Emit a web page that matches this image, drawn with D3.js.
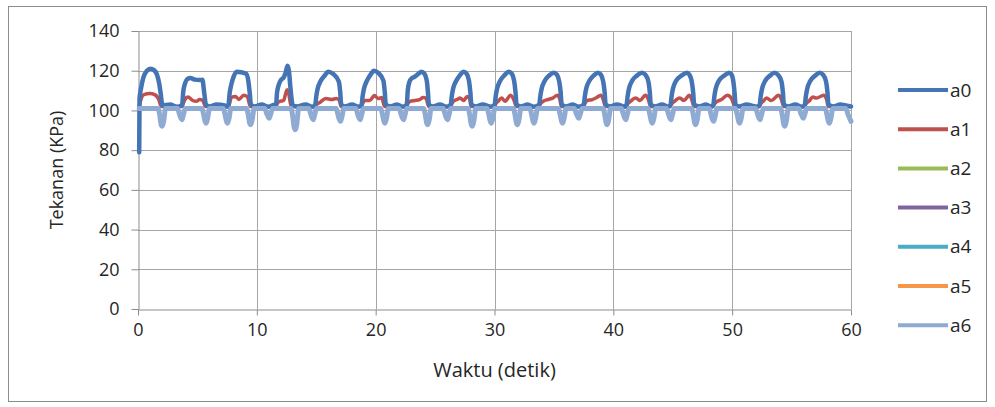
<!DOCTYPE html>
<html>
<head>
<meta charset="utf-8">
<script src="https://cdn.jsdelivr.net/npm/d3@7"></script>
<style>
  html, body { margin: 0; padding: 0; background: #fff; }
  svg { display: block; }
  text { font-family: "Open Sans", Lato, sans-serif; fill: #262626; }
</style>
</head>
<body>
<svg id="chart" width="995" height="407"></svg>
<script>
// Pressure readings (KPa) over time (s), as [time, value] pairs per sensor.
const a0 = [
  [0.1,79],[0.13,106],[0.25,111],[0.45,116.5],[0.75,120],[1.05,121],[1.35,120.3],[1.6,118],[1.8,113],[1.92,108],[2.05,102.5],[2.7,103],[3.3,101.8],[3.62,102.5],
  [3.72,103],[3.8,109],[3.95,113.5],[4.15,115.8],[4.4,116.3],[4.8,115.5],[5.2,115.3],[5.42,115.5],[5.55,110],[5.72,103],[6.0,102],[6.6,103],[7.3,102.5],[7.5,101.8],
  [7.62,103],[7.7,108],[7.85,113],[8.05,117],[8.3,119.5],[8.7,119.2],[9.1,118.5],[9.28,115],[9.4,109],[9.5,103],[9.8,102],[10.4,103],[11.0,101.8],[11.4,102.8],
  [11.62,103],[11.7,109],[11.85,113],[12.05,115.5],[12.25,116.5],[12.42,119],[12.58,122.5],[12.7,120],[12.82,112],[12.92,106],[13.02,102.5],[13.4,102],[14.1,103],[14.7,101.8],
  [14.92,103],[15.0,107],[15.12,111],[15.37,114.8],[15.72,117.6],[16.0,119.5],[16.4,118.5],[16.9,114.5],[17.02,109],[17.1,103],[17.4,102],[18.0,103],[18.6,101.8],
  [18.82,103],[18.9,107],[19.02,111],[19.27,115],[19.6,118.3],[19.85,120],[20.2,119],[20.65,115],[20.77,109],[20.85,103],[21.2,102],[21.8,103],[22.3,101.8],
  [22.62,103],[22.7,110],[22.85,114.5],[23.0,116],[23.3,117],[23.6,118.5],[23.85,119.5],[24.1,118.5],[24.3,115],[24.4,109],[24.48,103],[24.8,102],[25.4,103],[26.0,101.8],
  [26.32,103],[26.4,107],[26.52,111],[26.77,114.8],[27.1,117.8],[27.4,119.5],[27.65,118.5],[27.85,115],[27.97,109],[28.05,103],[28.4,102],[29.0,103],[29.7,101.8],
  [30.02,103],[30.1,107],[30.22,111],[30.47,114.8],[30.85,117.8],[31.2,119.5],[31.45,118.5],[31.65,115],[31.77,109],[31.85,103],[32.2,102],[32.8,103],[33.3,101.8],
  [33.77,103],[33.85,107],[33.97,111],[34.22,114.8],[34.6,117.6],[35.0,119],[35.25,118],[35.45,114.5],[35.57,109],[35.65,103],[36.0,102],[36.6,103],[37.05,101.8],
  [37.52,103],[37.6,107],[37.72,111],[37.97,114.8],[38.35,117.6],[38.7,119],[38.95,118],[39.15,114.5],[39.27,109],[39.35,103],[39.7,102],[40.3,103],[41.0,101.8],
  [41.12,103],[41.2,107],[41.32,111],[41.57,114.8],[42.0,117.6],[42.4,119],[42.7,118],[42.95,114.5],[43.07,109],[43.15,103],[43.5,102],[44.1,103],[44.65,101.8],
  [44.82,103],[44.9,107],[45.02,111],[45.27,114.8],[45.75,117.6],[46.2,119],[46.4,118],[46.6,114.5],[46.72,109],[46.8,103],[47.2,102],[47.8,103],[48.25,101.8],
  [48.42,103],[48.5,107],[48.62,111],[48.87,114.8],[49.35,117.6],[49.75,119],[49.95,118],[50.1,114.5],[50.2,109],[50.28,103],[50.6,102],[51.2,103],[52.1,101.8],
  [52.32,103],[52.4,107],[52.52,111],[52.77,114.8],[53.2,117.6],[53.55,119],[53.85,118],[54.15,114.5],[54.27,109],[54.35,103],[54.7,102],[55.3,103],[55.9,101.8],
  [56.12,103],[56.2,107],[56.32,111],[56.57,114.8],[57.0,117.6],[57.35,119],[57.65,118],[57.9,114.5],[58.02,109],[58.1,103],[58.5,102],[59.1,103],[59.6,102.5],[60,102]
];

const a1 = [
  [0.1,102],[0.3,106.5],[0.5,108],[1.0,108.5],[1.4,108],[1.75,105.5],[1.95,102],
  [3.72,102],[3.78,103],[3.95,105.5],[4.2,106.8],[4.6,105],[4.9,104.6],[5.2,105.5],[5.45,105],[5.68,102],
  [7.6,102],[7.68,103],[7.85,106.5],[8.2,107],[8.5,105.5],[8.9,107.7],[9.2,107],[9.45,102],
  [11.62,102],[11.68,103],[11.9,104.5],[12.25,105],[12.45,109],[12.55,110.4],[12.7,108],[12.85,103],[13.0,102],
  [14.92,102],[15.0,102.8],[15.3,104],[15.8,106],[16.3,105.5],[16.7,106],[16.95,105],[17.08,102],
  [18.82,102],[18.88,103],[19.1,105],[19.5,105],[19.9,107.5],[20.2,106],[20.5,106.5],[20.75,102],
  [22.62,102],[22.68,103],[22.9,104.6],[23.3,105],[23.7,105.5],[24.0,106.5],[24.25,106],[24.45,102],
  [26.32,102],[26.38,103],[26.55,104.6],[26.85,105.5],[27.1,106.2],[27.4,105],[27.7,107],[27.9,106],[28.03,102],
  [30.02,102],[30.08,103],[30.3,104.6],[30.6,106.2],[30.9,104.6],[31.35,107.7],[31.65,105],[31.83,102],
  [33.77,102],[33.83,103],[34.1,104.6],[34.5,105.5],[34.9,106.2],[35.3,107.7],[35.5,105.5],[35.63,102],
  [37.52,102],[37.58,103],[37.8,105],[38.2,105.4],[38.6,106.5],[38.95,107.7],[39.15,105.5],[39.33,102],
  [41.12,102],[41.18,103],[41.45,104.6],[41.9,106.2],[42.25,105],[42.7,107.7],[42.95,105.5],[43.13,102],
  [44.82,102],[44.88,103],[45.15,104.6],[45.6,106.2],[45.95,105],[46.4,107.7],[46.6,105.5],[46.78,102],
  [48.42,102],[48.48,103],[48.75,104.6],[49.1,105.5],[49.6,107.7],[49.95,106],[50.23,102],
  [52.32,102],[52.38,103],[52.6,104.6],[52.9,106.2],[53.3,105],[53.9,107.7],[54.15,105.5],[54.33,102],
  [56.12,102],[56.18,103],[56.45,104.6],[56.8,106.7],[57.1,106.2],[57.7,107.7],[57.95,105.5],[58.08,102],
  [60,102]
];

// Sensors a2..a5 recorded no visible trace
const a2 = [];
const a3 = [];
const a4 = [];
const a5 = [];

const a6 = [
  [0.1,101],
  [1.68,101],[1.82,98],[1.94,93],[2.04,92],[2.16,94.5],[2.32,101],
  [3.33,101],[3.47,98.5],[3.59,96.3],[3.69,95.3],[3.81,97.5],[3.97,101],
  [5.38,101],[5.52,98],[5.64,94.6],[5.74,93.6],[5.86,96],[6.02,101],
  [7.18,101],[7.32,98],[7.44,94.6],[7.54,93.6],[7.66,96],[7.82,101],
  [9.13,101],[9.27,98],[9.39,93.8],[9.49,92.8],[9.61,95.3],[9.77,101],
  [10.68,101],[10.82,98.5],[10.94,97],[11.04,96],[11.16,98],[11.32,101],
  [12.88,101],[13.02,97],[13.14,91.5],[13.24,90.3],[13.36,93],[13.52,101],
  [14.38,101],[14.52,98.5],[14.64,96.3],[14.74,95.3],[14.86,97.5],[15.02,101],
  [16.68,101],[16.82,98],[16.94,95.5],[17.04,94.5],[17.16,96.8],[17.32,101],
  [18.33,101],[18.47,98.5],[18.59,96.3],[18.69,95.3],[18.81,97.5],[18.97,101],
  [20.43,101],[20.57,98],[20.69,94.6],[20.79,93.6],[20.91,96],[21.07,101],
  [21.98,101],[22.12,98.5],[22.24,96.3],[22.34,95.3],[22.46,97.5],[22.62,101],
  [24.03,101],[24.17,98],[24.29,93.8],[24.39,92.8],[24.51,95.3],[24.67,101],
  [25.68,101],[25.82,98.5],[25.94,96.3],[26.04,95.3],[26.16,97.5],[26.32,101],
  [27.78,101],[27.92,97.5],[28.04,93],[28.14,92],[28.26,94.5],[28.42,101],
  [29.38,101],[29.52,98],[29.64,94.6],[29.74,93.6],[29.86,96],[30.02,101],
  [31.58,101],[31.72,98],[31.84,93.8],[31.94,92.8],[32.06,95.3],[32.22,101],
  [32.98,101],[33.12,98],[33.24,94.6],[33.34,93.6],[33.46,96],[33.62,101],
  [35.38,101],[35.52,98],[35.64,94.6],[35.74,93.6],[35.86,96],[36.02,101],
  [36.73,101],[36.87,98.5],[36.99,97],[37.09,96],[37.21,98],[37.37,101],
  [39.13,101],[39.27,98],[39.39,93.8],[39.49,92.8],[39.61,95.3],[39.77,101],
  [40.68,101],[40.82,98.5],[40.94,96.3],[41.04,95.3],[41.16,97.5],[41.32,101],
  [42.93,101],[43.07,98],[43.19,94.6],[43.29,93.6],[43.41,96],[43.57,101],
  [44.48,101],[44.62,98.5],[44.74,96.3],[44.84,95.3],[44.96,97.5],[45.12,101],
  [46.58,101],[46.72,98],[46.84,93.8],[46.94,92.8],[47.06,95.3],[47.22,101],
  [48.08,101],[48.22,98],[48.34,95.5],[48.44,94.5],[48.56,96.8],[48.72,101],
  [50.28,101],[50.42,98],[50.54,94.6],[50.64,93.6],[50.76,96],[50.92,101],
  [51.98,101],[52.12,98.5],[52.24,96.3],[52.34,95.3],[52.46,97.5],[52.62,101],
  [54.08,101],[54.22,97.5],[54.34,93],[54.44,92],[54.56,94.5],[54.72,101],
  [55.63,101],[55.77,98.5],[55.89,97],[55.99,96],[56.11,98],[56.27,101],
  [57.83,101],[57.97,98],[58.09,94.6],[58.19,93.6],[58.31,96],[58.47,101],
  [59.55,101],[59.78,97.5],[60,94.5]
];

const seriesNames = ["a0", "a1", "a2", "a3", "a4", "a5", "a6"];
const seriesData = [a0, a1, a2, a3, a4, a5, a6];
const seriesColors = ["#4474b3", "#c0504d", "#9bbb59", "#8064a2", "#4bacc6", "#f79646", "#90abd3"];

const xTicks = [0, 10, 20, 30, 40, 50, 60];
const yTicks = [0, 20, 40, 60, 80, 100, 120, 140];
const xTitle = "Waktu (detik)";
const yTitle = "Tekanan (KPa)";

const svg = d3.select("#chart");

// Chart frame
svg.append("rect")
  .attr("x", 8.5).attr("y", 6.5).attr("width", 978).attr("height", 395)
  .attr("fill", "none").attr("stroke", "#8c8c8c").attr("stroke-width", 1);

const x = d3.scaleLinear().domain([0, 60]).range([138, 851]);
const y = d3.scaleLinear().domain([0, 140]).range([309, 31]);

// Gridlines
const grid = svg.append("g");
grid.selectAll("line.h").data(yTicks.filter(d => d > 0)).join("line")
  .attr("x1", x(0)).attr("x2", x(60))
  .attr("y1", d => Math.round(y(d)) + 0.5).attr("y2", d => Math.round(y(d)) + 0.5)
  .attr("stroke", "#a6a6a6").attr("stroke-width", 1);
grid.selectAll("line.v").data(xTicks.filter(d => d > 0)).join("line")
  .attr("y1", y(0)).attr("y2", y(140))
  .attr("x1", d => Math.round(x(d)) + 0.5).attr("x2", d => Math.round(x(d)) + 0.5)
  .attr("stroke", "#a6a6a6").attr("stroke-width", 1);

// Axes
const yAxis = svg.append("g")
  .attr("transform", `translate(${Math.round(x(0)) + 0.5},0)`)
  .call(d3.axisLeft(y).tickValues(yTicks).tickSize(7).tickPadding(12).tickSizeOuter(0));
const xAxis = svg.append("g")
  .attr("transform", `translate(0,${Math.round(y(0)) + 0.5})`)
  .call(d3.axisBottom(x).tickValues(xTicks).tickSize(6).tickPadding(8).tickSizeOuter(0));
[yAxis, xAxis].forEach(g => {
  g.select(".domain").attr("stroke", "#8c8c8c");
  g.selectAll(".tick line").attr("stroke", "#8c8c8c");
  g.selectAll(".tick text").attr("font-size", 18).attr("font-family", "'Open Sans', sans-serif").attr("fill", "#262626");
});

// Axis titles
svg.append("text")
  .attr("transform", `translate(63,${(y(0) + y(140)) / 2}) rotate(-90)`)
  .attr("text-anchor", "middle").attr("font-size", 18)
  .text(yTitle);
svg.append("text")
  .attr("x", (x(0) + x(60)) / 2).attr("y", 377)
  .attr("text-anchor", "middle").attr("font-size", 20)
  .text(xTitle);

// Series lines (a1 beneath a0, light a6 on top)
const line = d3.line().x(d => x(d[0])).y(d => y(d[1])).curve(d3.curveMonotoneX);
const drawOrder = [1, 0, 2, 3, 4, 5, 6];
const widths = [4.5, 3.5, 3, 3, 3, 3, 5];
const plot = svg.append("g");
drawOrder.forEach(i => {
  if (!seriesData[i].length) return;
  plot.append("path")
    .datum(seriesData[i])
    .attr("d", line)
    .attr("fill", "none")
    .attr("stroke", seriesColors[i])
    .attr("stroke-width", widths[i])
    .attr("stroke-linejoin", "round")
    .attr("stroke-linecap", "round");
});

// Legend
const legend = svg.append("g");
seriesNames.forEach((name, i) => {
  const ly = 90 + i * 39.2;
  legend.append("line")
    .attr("x1", 898).attr("x2", 948).attr("y1", ly).attr("y2", ly)
    .attr("stroke", seriesColors[i]).attr("stroke-width", 4);
  legend.append("text")
    .attr("x", 950).attr("y", ly + 6.5).attr("font-size", 19)
    .text(name);
});
</script>
</body>
</html>
